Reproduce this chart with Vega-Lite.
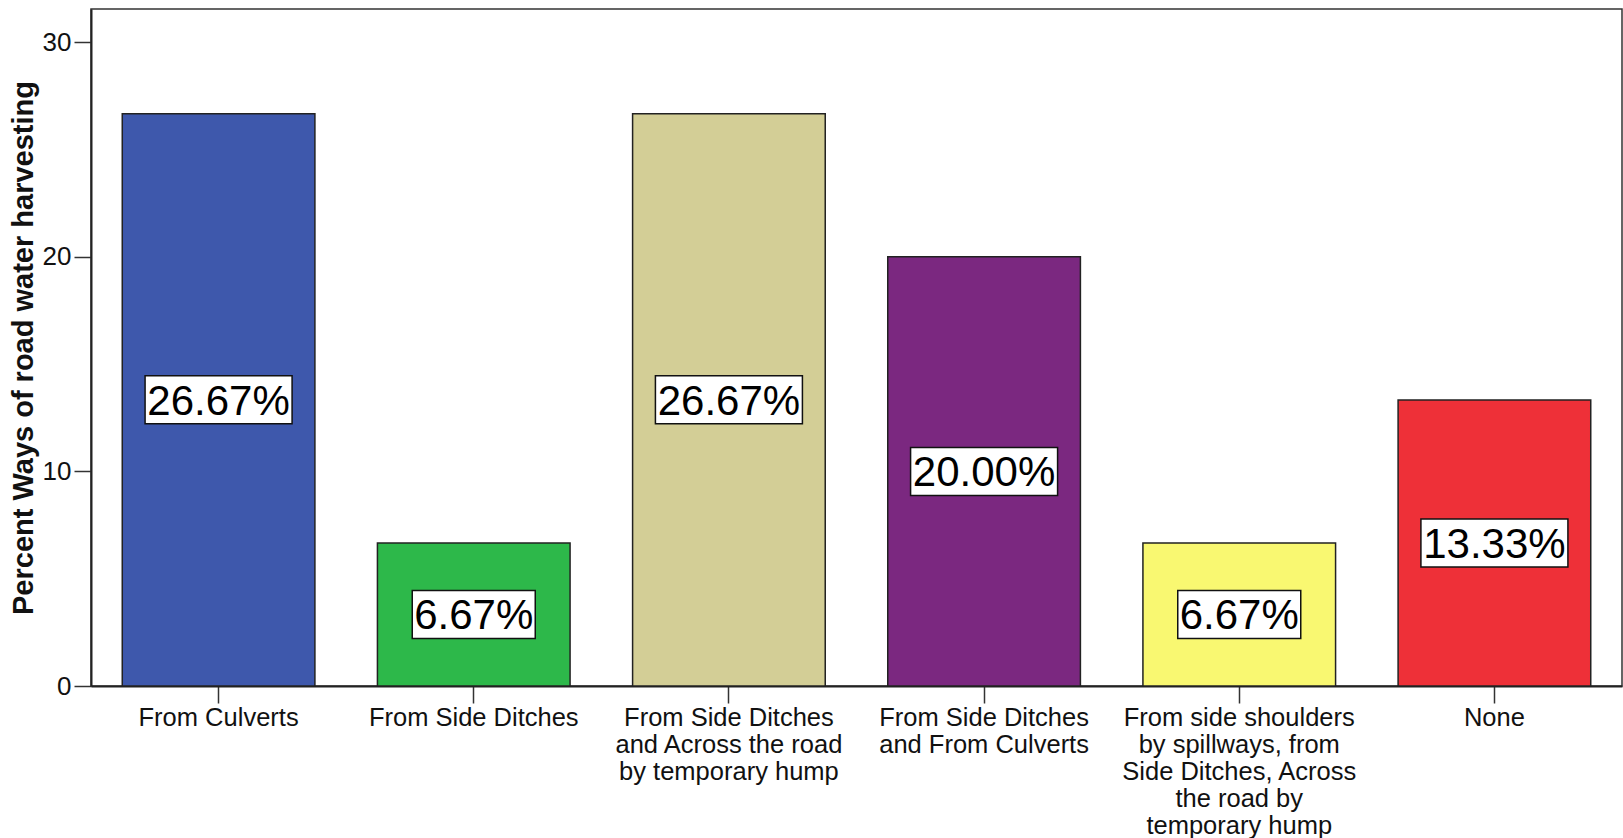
{
  "$schema": "https://vega.github.io/schema/vega-lite/v6.json",
  "autosize": {"type": "none"},
  "padding": {"left": 91, "top": 9, "right": 1, "bottom": 152},
  "width": 1531,
  "height": 677,
  "background": "white",
  "config": {
    "view": {"stroke": "#333333", "strokeWidth": 1.5},
    "font": "Liberation Sans"
  },
  "data": {
    "values": [
      {"category": "From Culverts", "pct": 26.67},
      {"category": "From Side Ditches", "pct": 6.67},
      {"category": "From Side Ditches\nand Across the road\nby temporary hump", "pct": 26.67},
      {"category": "From Side Ditches\nand From Culverts", "pct": 20.0},
      {"category": "From side shoulders\nby spillways, from\nSide Ditches, Across\nthe road by\ntemporary hump", "pct": 6.67},
      {"category": "None", "pct": 13.33}
    ]
  },
  "transform": [
    {"calculate": "datum.pct / 2", "as": "mid"},
    {"calculate": "format(datum.pct, '.2f') + '%'", "as": "label"}
  ],
  "encoding": {
    "x": {
      "field": "category",
      "type": "nominal",
      "sort": null,
      "scale": {"paddingInner": 0.245, "paddingOuter": 0.1225},
      "axis": {
        "title": null,
        "labelAngle": 0,
        "labelAlign": "center",
        "labelBaseline": "top",
        "labelFontSize": 25.5,
        "labelLineHeight": 27,
        "labelColor": "#111111",
        "labelPadding": 2,
        "labelLimit": 400,
        "labelExpr": "split(datum.label, '\\n')",
        "tickSize": 17,
        "tickColor": "#333333",
        "tickWidth": 1.5,
        "domainColor": "#222222",
        "domainWidth": 2,
        "labelOverlap": false
      }
    }
  },
  "layer": [
    {
      "mark": {"type": "bar", "stroke": "#222222", "strokeWidth": 1.5},
      "encoding": {
        "y": {
          "field": "pct",
          "type": "quantitative",
          "scale": {"domain": [0, 31.55], "nice": false, "zero": true},
          "axis": {
            "title": "Percent Ways of road water harvesting",
            "titleFontSize": 29,
            "titleFontWeight": "bold",
            "titleColor": "#111111",
            "titlePadding": 4,
            "values": [0, 10, 20, 30],
            "grid": false,
            "labelFontSize": 26,
            "labelColor": "#111111",
            "labelPadding": 3,
            "tickSize": 17,
            "tickColor": "#333333",
            "tickWidth": 1.5,
            "domainColor": "#222222",
            "domainWidth": 2
          }
        },
        "color": {
          "field": "category",
          "type": "nominal",
          "sort": null,
          "legend": null,
          "scale": {"range": ["#3E58AC", "#2DB84A", "#D3CE96", "#7B2880", "#F9F871", "#EE3038"]}
        }
      }
    },
    {
      "mark": {"type": "point", "filled": true, "fill": "white", "stroke": "#111111", "strokeWidth": 1.5, "opacity": 1},
      "encoding": {
        "y": {"field": "mid", "type": "quantitative"},
        "shape": {
          "condition": {"test": "datum.pct < 10", "value": "M-1,-0.39H1V0.39H-1Z"},
          "value": "M-1,-0.3265H1V0.3265H-1Z"
        },
        "size": {
          "condition": {"test": "datum.pct < 10", "value": 15129},
          "value": 21609
        }
      }
    },
    {
      "mark": {"type": "text", "fontSize": 42, "color": "#000000", "baseline": "middle", "align": "center", "dy": 2},
      "encoding": {
        "y": {"field": "mid", "type": "quantitative"},
        "text": {"field": "label"}
      }
    }
  ]
}
